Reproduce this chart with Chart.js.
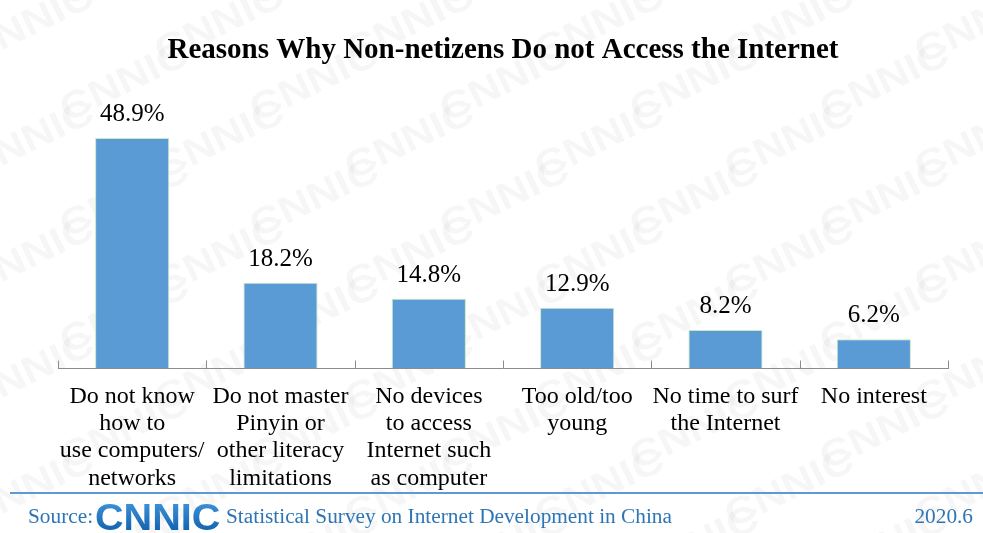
<!DOCTYPE html>
<html lang="en">
<head>
	<title>Reasons Why Non-netizens Do not Access the Internet</title>
	<meta charset="utf-8">
	<script src="https://cdn.jsdelivr.net/npm/chart.js@4.4.1/dist/chart.umd.min.js"></script>
	<style type="text/css">
		html, body { margin: 0; padding: 0; background: #fff; }
		#wrap { position: relative; width: 983px; height: 533px; }
	</style>
</head>
<body>
<div id="wrap">
	<canvas id="reason-canvas" width="983" height="533"></canvas>
</div>
<script type="text/javascript">
	// categories (multi-line tick labels) and share of non-netizens, %
	var reasons = [
		["Do not know", "how to", "use computers/", "networks"],
		["Do not master", "Pinyin or", "other literacy", "limitations"],
		["No devices", "to access", "Internet such", "as computer"],
		["Too old/too", "young"],
		["No time to surf", "the Internet"],
		["No interest"]
	];
	var shares = [48.9, 18.2, 14.8, 12.9, 8.2, 6.2];

	var titleText = "Reasons Why Non-netizens Do not Access the Internet";
	var sourceText = "Statistical Survey on Internet Development in China";
	var dateText = "2020.6";

	var SERIF = "'Liberation Serif', 'Times New Roman', serif";
	var BLUE_TEXT = "#2e75b6";
	var AXIS_GREY = "#8c8c8c";

	// faint CNNIC watermark behind everything
	var watermark = {
		id: "watermark",
		beforeDraw: function(chart) {
			var ctx = chart.ctx;
			ctx.save();
			ctx.fillStyle = "rgba(0,0,0,0.035)";
			ctx.font = "bold 38px 'Liberation Sans', Arial, sans-serif";
			ctx.textAlign = "center";
			ctx.textBaseline = "middle";
			for (var row = -2; row < 11; row++) {
				for (var col = -1; col < 7; col++) {
					var x = col * 190 + (row % 2 ? 95 : 0) + 30;
					var y = row * 58 + 25;
					ctx.save();
					ctx.translate(x, y);
					ctx.rotate(-0.45);
					ctx.scale(1.15, 1);
					ctx.fillText("CNNIC", 0, 0);
					ctx.restore();
				}
			}
			ctx.restore();
		}
	};

	// short upward ticks on the x axis, between categories
	var axisTicks = {
		id: "axisTicks",
		afterDatasetsDraw: function(chart) {
			var ctx = chart.ctx;
			var xs = chart.scales.x;
			var y = xs.top;
			ctx.save();
			ctx.strokeStyle = AXIS_GREY;
			ctx.lineWidth = 1;
			ctx.beginPath();
			for (var i = 0; i <= reasons.length; i++) {
				var x = Math.round(xs.getPixelForValue(i - 0.5)) + 0.5;
				ctx.moveTo(x, y);
				ctx.lineTo(x, y - 8);
			}
			ctx.stroke();
			ctx.restore();
		}
	};

	// value labels above each bar
	var barLabels = {
		id: "barLabels",
		afterDatasetsDraw: function(chart) {
			var ctx = chart.ctx;
			var meta = chart.getDatasetMeta(0);
			ctx.save();
			ctx.fillStyle = "#000";
			ctx.font = "25px " + SERIF;
			ctx.textAlign = "center";
			ctx.textBaseline = "alphabetic";
			meta.data.forEach(function(bar, i) {
				ctx.fillText(shares[i].toFixed(1) + "%", bar.x, bar.y - 17);
			});
			ctx.restore();
		}
	};

	// source line at the bottom
	var footer = {
		id: "footer",
		afterDraw: function(chart) {
			var ctx = chart.ctx;
			var w = chart.width;
			ctx.save();
			ctx.strokeStyle = "#5b9bd5";
			ctx.lineWidth = 2;
			ctx.beginPath();
			ctx.moveTo(10, 493);
			ctx.lineTo(w, 493);
			ctx.stroke();

			ctx.fillStyle = BLUE_TEXT;
			ctx.font = "21.3px " + SERIF;
			ctx.textBaseline = "alphabetic";
			ctx.textAlign = "left";
			ctx.fillText("Source:", 28, 523);
			ctx.fillText(sourceText, 226, 523);
			ctx.textAlign = "right";
			ctx.fillText(dateText, 973, 523);

			// logo
			ctx.save();
			ctx.translate(95, 530);
			ctx.scale(1.1, 1);
			ctx.font = "bold 36px 'Liberation Sans', Arial, sans-serif";
			ctx.textAlign = "left";
			var g = ctx.createLinearGradient(0, -26, 0, 0);
			g.addColorStop(0, "#3a8fd6");
			g.addColorStop(1, "#1565b0");
			ctx.fillStyle = g;
			ctx.fillText("CNNIC", 0, 0);
			ctx.restore();
			ctx.restore();
		}
	};

	var ctx = document.querySelector("#reason-canvas").getContext("2d");
	var reasonChart = new Chart(ctx, {
		type: "bar",
		data: {
			labels: reasons,
			datasets: [{
				data: shares,
				backgroundColor: "#5b9bd5",
				borderColor: "#c9e7c4",
				borderWidth: 1,
				categoryPercentage: 1,
				barPercentage: 0.5
			}]
		},
		options: {
			responsive: false,
			animation: false,
			layout: {
				padding: { left: 58, right: 35, top: 20, bottom: 35 }
			},
			plugins: {
				legend: { display: false },
				tooltip: { enabled: false },
				title: {
					display: true,
					text: titleText,
					color: "#000",
					font: { family: SERIF, size: 29, weight: "bold" },
					padding: { top: 13, bottom: 65 }
				}
			},
			scales: {
				x: {
					offset: true,
					border: { display: true, color: AXIS_GREY, width: 1 },
					grid: { display: false },
					ticks: {
						autoSkip: false,
						maxRotation: 0,
						color: "#000",
						padding: 6,
						font: { family: SERIF, size: 24, lineHeight: 1.14 }
					}
				},
				y: {
					display: false,
					min: 0,
					max: 50
				}
			}
		},
		plugins: [watermark, axisTicks, barLabels, footer]
	});
</script>
</body>
</html>
